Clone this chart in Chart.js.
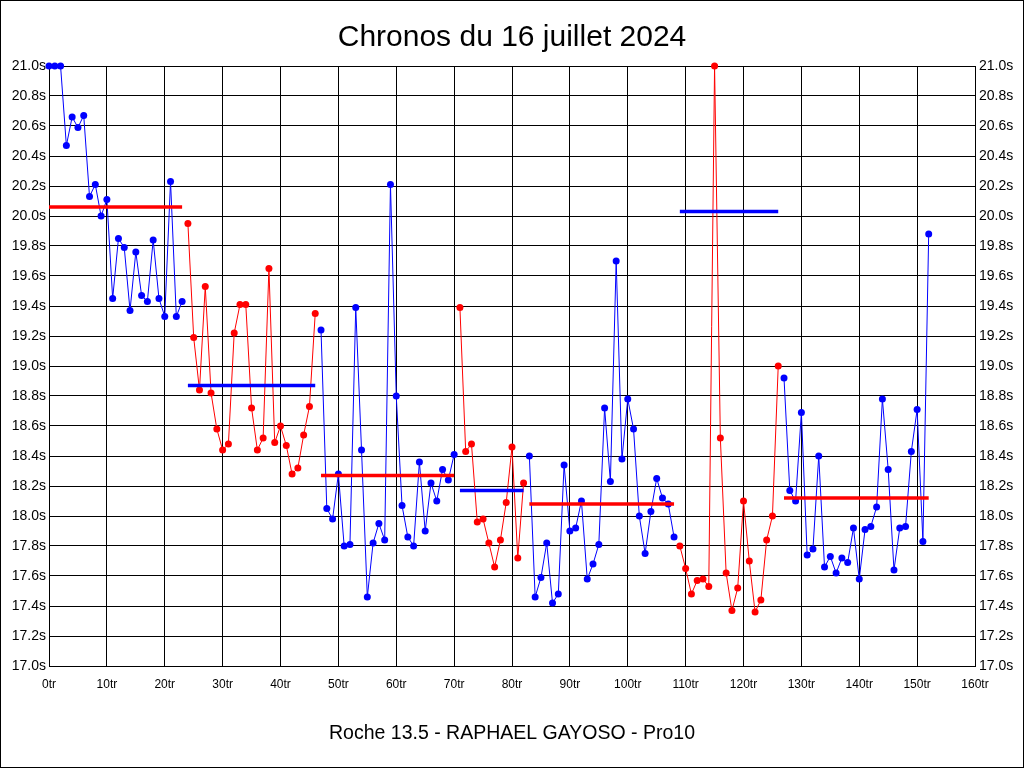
<!DOCTYPE html>
<html><head><meta charset="utf-8">
<script src="https://cdn.jsdelivr.net/npm/chart.js@4"></script>
<style>html,body{margin:0;padding:0;background:#fff}canvas{display:block}</style>
</head><body>
<canvas id="c" width="1024" height="768"></canvas>
<script>
const chartTitle = "Chronos du 16 juillet 2024";
const xAxisTitle = "Roche 13.5 - RAPHAEL GAYOSO - Pro10";
const lapTimes = [
  21.00,21.00,21.00,20.47,20.66,20.59,20.67,20.13,20.21,20.00,
  20.11,19.45,19.85,19.79,19.37,19.76,19.47,19.43,19.84,19.45,
  19.33,20.23,19.33,19.43,19.95,19.19,18.84,19.53,18.82,18.58,
  18.44,18.48,19.22,19.41,19.41,18.72,18.44,18.52,19.65,18.49,
  18.60,18.47,18.28,18.32,18.54,18.73,19.35,19.24,18.05,17.98,
  18.28,17.80,17.81,19.39,18.44,17.46,17.82,17.95,17.84,20.21,
  18.80,18.07,17.86,17.80,18.36,17.90,18.22,18.10,18.31,18.24,
  18.41,19.39,18.43,18.48,17.96,17.98,17.82,17.66,17.84,18.09,
  18.46,17.72,18.22,18.40,17.46,17.59,17.82,17.42,17.48,18.34,
  17.90,17.92,18.10,17.58,17.68,17.81,18.72,18.23,19.70,18.38,
  18.78,18.58,18.00,17.75,18.03,18.25,18.12,18.08,17.86,17.80,
  17.65,17.48,17.57,17.58,17.53,21.00,18.52,17.62,17.37,17.52,
  18.10,17.70,17.36,17.44,17.84,18.00,19.00,18.92,18.17,18.10,
  18.69,17.74,17.78,18.40,17.66,17.73,17.62,17.72,17.69,17.92,
  17.58,17.91,17.93,18.06,18.78,18.31,17.64,17.92,17.93,18.43,
  18.71,17.83,19.88
];
const segmentStart = [0, 24, 47, 71, 83, 109, 127];
const segmentEnd   = [23, 46, 70, 82, 108, 126, 152];
const segmentAverage = [20.06, 18.87, 18.27, 18.17, 18.08, 20.03, 18.12];

const BLUE = '#0000ff', RED = '#ff0000';
const FONT = "'Liberation Sans', Arial, sans-serif";

const datasets = [];
segmentStart.forEach((s, i) => {
  const col = i % 2 === 0 ? BLUE : RED;
  const pts = [];
  for (let l = s; l <= segmentEnd[i]; l++) pts.push({x: l, y: lapTimes[l]});
  datasets.push({data: pts, borderColor: col, backgroundColor: col, pointBackgroundColor: col,
    pointBorderWidth: 0, pointRadius: 3.5, borderWidth: 1, tension: 0, clip: false, order: 2});
});
segmentStart.forEach((s, i) => {
  const col = i % 2 === 0 ? RED : BLUE;
  datasets.push({data: [{x: s, y: segmentAverage[i]}, {x: segmentEnd[i], y: segmentAverage[i]}],
    borderColor: col, borderWidth: 3.5, pointRadius: 0, tension: 0, clip: false, order: 1});
});

const frame = {id: 'frame', afterDraw(c) {
  const ctx = c.ctx; ctx.save(); ctx.strokeStyle = '#000'; ctx.lineWidth = 1;
  ctx.strokeRect(0.5, 0.5, 1023, 767); ctx.restore();
}};

new Chart(document.getElementById('c'), {
  type: 'line',
  data: {datasets},
  plugins: [frame],
  options: {
    responsive: false, animation: false, devicePixelRatio: 1,
    layout: {padding: 0},
    plugins: {
      legend: {display: false}, tooltip: {enabled: false},
      title: {display: true, text: chartTitle, color: '#000',
        font: {family: FONT, size: 30, weight: 'normal'}, padding: {top: 20, bottom: 10}}
    },
    scales: {
      x: {type: 'linear', min: 0, max: 160,
        ticks: {stepSize: 10, color: '#000', padding: 11, maxRotation: 0,
          font: {family: FONT, size: 12}, callback: v => v + 'tr'},
        grid: {color: '#000', lineWidth: 1, drawTicks: false},
        border: {color: '#000'},
        title: {display: true, text: xAxisTitle, color: '#000',
          font: {family: FONT, size: 19.5}, padding: {top: 0, bottom: 23}},
        afterFit: s => { s.height = 102; }
      },
      y: {position: 'left', min: 17, max: 21,
        ticks: {stepSize: 0.2, color: '#000', padding: 3,
          font: {family: FONT, size: 14}, callback: v => v.toFixed(1) + 's'},
        grid: {color: '#000', lineWidth: 1, drawTicks: false},
        border: {color: '#000'},
        afterFit: s => { s.width = 49; }
      },
      y2: {position: 'right', min: 17, max: 21,
        ticks: {stepSize: 0.2, color: '#000', padding: 4,
          font: {family: FONT, size: 14}, callback: v => v.toFixed(1) + 's'},
        grid: {drawOnChartArea: false, drawTicks: false},
        border: {color: '#000'},
        afterFit: s => { s.width = 49; }
      }
    }
  }
});
</script>
</body></html>
